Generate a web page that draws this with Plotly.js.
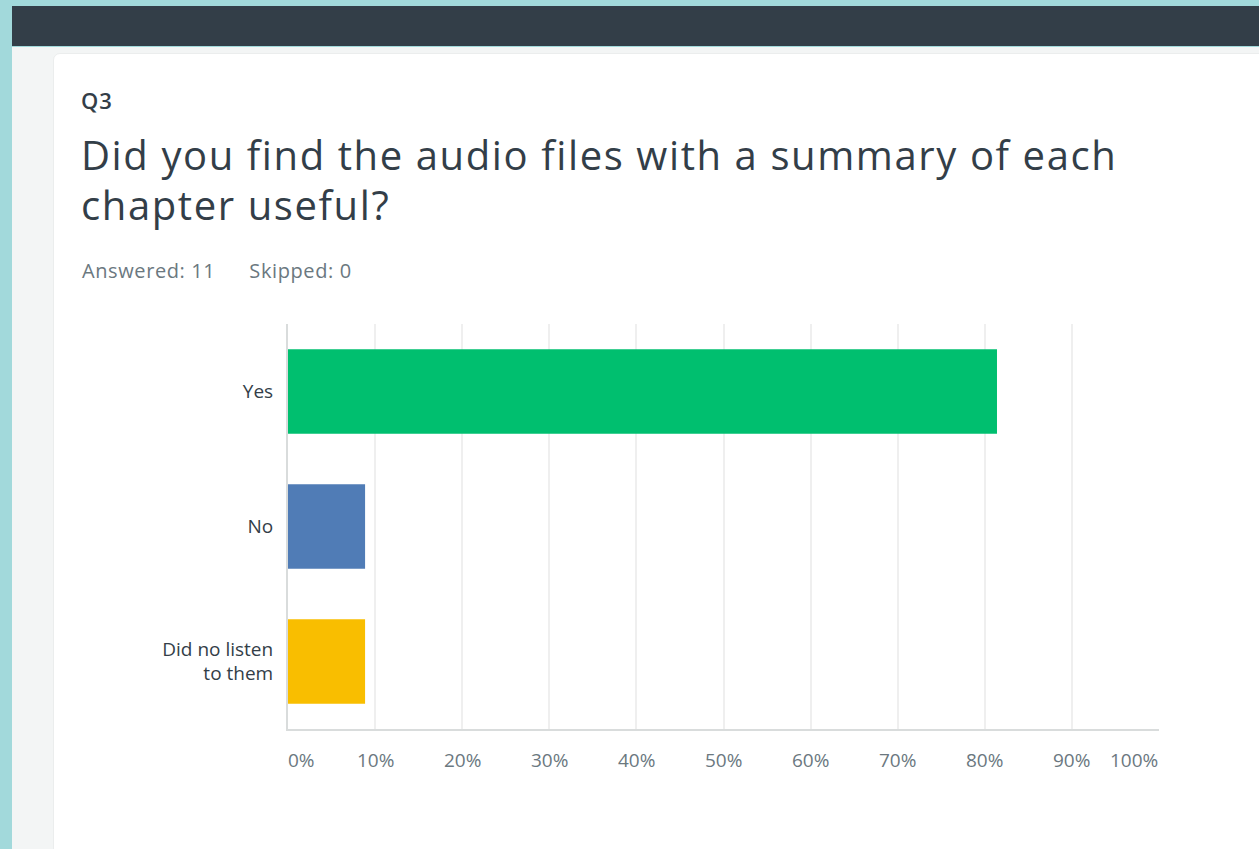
<!DOCTYPE html>
<html>
<head>
<meta charset="utf-8">
<script src="https://cdn.plot.ly/plotly-3.0.1.min.js"></script>
<style>
  html, body { margin:0; padding:0; width:1259px; height:849px; overflow:hidden; background:#a2d9db; font-family:"Open Sans", sans-serif; }
  #topbar { position:absolute; left:12px; top:6px; width:1247px; height:40px; background:#333e48; }
  #bg { position:absolute; left:12px; top:47px; width:1247px; height:802px; background:#f3f5f5; }
  #card { position:absolute; left:53px; top:53px; width:1230px; height:830px; background:#ffffff; border-radius:7px; border:1px solid #ebeded; }
  .txt { position:absolute; white-space:nowrap; color:#333e48; }
  #q { left:81px; top:85px; font-size:22px; font-weight:600; letter-spacing:1px; line-height:30px; }
  #title { left:81px; top:130px; font-size:40px; line-height:50px; font-weight:400; letter-spacing:1.6px; }
  #meta { left:82px; top:256px; font-size:20px; line-height:30px; color:#6b787f; letter-spacing:0.6px; }
  #chart { position:absolute; left:0; top:0; width:1259px; height:849px; }
</style>
</head>
<body>
<div id="topbar"></div>
<div id="bg"></div>
<div id="card"></div>
<div class="txt" id="q">Q3</div>
<div class="txt" id="title">Did you find the audio files with a summary of each<br>chapter useful?</div>
<div class="txt" id="meta">Answered: 11<span style="display:inline-block;width:34px"></span>Skipped: 0</div>
<div id="chart"></div>
<script>
const categories = ["Yes", "No", "Did no listen<br>to them"];
const percents = [81.4, 8.85, 8.85];
const colors = ["#00bf6f", "#507cb6", "#f9be00"];
const tickValues = [0, 10, 20, 30, 40, 50, 60, 70, 80, 90, 100];
const tickLabels = ["0%", "10%", "20%", "30%", "40%", "50%", "60%", "70%", "80%", "90%", "100%"];

const annotations = tickValues.map((v, i) => ({
  x: v, xref: 'x', y: 0, yref: 'paper',
  yanchor: 'top', yshift: -17,
  xanchor: i === 0 ? 'left' : (i === tickValues.length - 1 ? 'right' : 'center'),
  text: tickLabels[i], showarrow: false, borderpad: 0,
  xshift: i === 0 ? -1 : 0,
  font: {family: '"Open Sans", sans-serif', size: 19, color: '#6b787f'}
}));

Plotly.newPlot('chart', [{
  type: 'bar', orientation: 'h',
  x: percents, y: categories,
  marker: {color: colors},
  width: 0.625,
  hoverinfo: 'skip'
}], {
  width: 1259, height: 849,
  margin: {l: 288, r: 100, t: 324, b: 120, pad: 0},
  paper_bgcolor: 'rgba(0,0,0,0)', plot_bgcolor: 'rgba(0,0,0,0)',
  showlegend: false,
  xaxis: {
    range: [0, 100], tickvals: tickValues, showticklabels: false,
    showgrid: true, gridcolor: '#efefef', gridwidth: 2,
    showline: true, linecolor: '#d9dcdc', linewidth: 2,
    zeroline: false, fixedrange: true
  },
  yaxis: {
    type: 'category', categoryarray: categories, categoryorder: 'array',
    range: [2.5, -0.5],
    showgrid: false, zeroline: false,
    showline: true, linecolor: '#d9dcdc', linewidth: 2,
    ticks: '', ticklabelstandoff: 9,
    tickfont: {family: '"Open Sans", sans-serif', size: 19, color: '#333e48'},
    fixedrange: true
  },
  annotations: annotations
}, {displayModeBar: false, staticPlot: true});
</script>
</body>
</html>
